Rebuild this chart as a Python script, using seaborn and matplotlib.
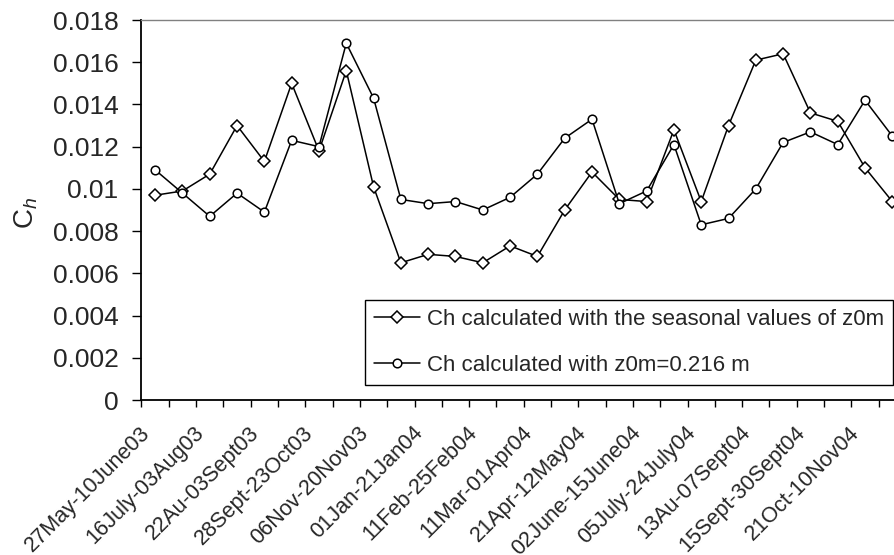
import matplotlib
matplotlib.use("Agg")
import matplotlib.pyplot as plt
import matplotlib.transforms as mtransforms
import numpy as np
import pandas as pd
import seaborn as sns

# ---- data ----
period_labels = ["27May-10June03", "16July-03Aug03", "22Au-03Sept03", "28Sept-23Oct03",
                 "06Nov-20Nov03", "01Jan-21Jan04", "11Feb-25Feb04", "11Mar-01Apr04",
                 "21Apr-12May04", "02June-15June04", "05July-24July04", "13Au-07Sept04",
                 "15Sept-30Sept04", "21Oct-10Nov04"]
n_periods = 28
ch_seasonal = [0.0097, 0.0099, 0.0107, 0.0130, 0.0113, 0.0150, 0.0118, 0.0156,
               0.0101, 0.0065, 0.0069, 0.0068, 0.0065, 0.0073, 0.0068, 0.0090,
               0.0108, 0.0095, 0.0094, 0.0128, 0.0094, 0.0130, 0.0161, 0.0164,
               0.0136, 0.0132, 0.0110, 0.0094]
ch_fixed = [0.0109, 0.0098, 0.0087, 0.0098, 0.0089, 0.0123, 0.0120, 0.0169,
            0.0143, 0.0095, 0.0093, 0.0094, 0.0090, 0.0096, 0.0107, 0.0124,
            0.0133, 0.0093, 0.0099, 0.0121, 0.0083, 0.0086, 0.0100, 0.0122,
            0.0127, 0.0121, 0.0142, 0.0125]
series_names = ["Ch calculated with the seasonal values of z0m",
                "Ch calculated with z0m=0.216 m"]
y_ticks = [0, 0.002, 0.004, 0.006, 0.008, 0.01, 0.012, 0.014, 0.016, 0.018]
y_tick_labels = ["0", "0.002", "0.004", "0.006", "0.008", "0.01", "0.012", "0.014", "0.016", "0.018"]

sns.set_style("white")
plt.rcParams["font.family"] = ["Liberation Sans", "DejaVu Sans"]
plt.rcParams["mathtext.fontset"] = "custom"
plt.rcParams["mathtext.rm"] = "Liberation Sans"
plt.rcParams["mathtext.it"] = "Liberation Sans:italic"

W, H = 895, 555
fig = plt.figure(figsize=(W / 100, H / 100), dpi=100)
# plot area (the original image is cropped slightly at the right)
x0, x1, y_top, y_bot = 141.5, 906.0, 20.0, 400.0
ax = fig.add_axes([x0 / W, 1 - y_bot / H, (x1 - x0) / W, (y_bot - y_top) / H])

idx = np.arange(n_periods)
df = pd.DataFrame({
    "period": np.concatenate([idx, idx]),
    "ch": np.concatenate([ch_seasonal, ch_fixed]),
    "series": [series_names[0]] * n_periods + [series_names[1]] * n_periods,
})

common = dict(color="black", linewidth=1.1, markerfacecolor="white",
              markeredgecolor="black", markeredgewidth=1.1)
sns.lineplot(data=df[df.series == series_names[0]], x="period", y="ch",
             marker="D", markersize=6.6, label=series_names[0], ax=ax, zorder=3, **common)
sns.lineplot(data=df[df.series == series_names[1]], x="period", y="ch",
             marker="o", markersize=6.2, label=series_names[1], ax=ax, zorder=4, **common)

ax.set_xlim(-0.5, n_periods - 0.5)
ax.set_ylim(0, 0.018)
ax.set_yticks(y_ticks)
ax.set_yticklabels(y_tick_labels, fontsize=19)
ax.tick_params(axis="y", which="major", direction="out", length=6.5, width=1.0,
               color="black", pad=10, left=True)

# category labels every other period, tick marks between categories
ax.set_xticks(idx[::2])
ax.set_xticklabels(period_labels, fontsize=15.6, rotation=45, ha="right", va="top",
                   rotation_mode="anchor")
ax.set_xticks(np.arange(n_periods + 1) - 0.5, minor=True)
ax.tick_params(axis="x", which="major", length=0, pad=16)
ax.tick_params(axis="x", which="minor", direction="out", length=5, width=1.0,
               color="black", bottom=True)
shift = mtransforms.ScaledTranslation(-16 / 100, 0, fig.dpi_scale_trans)
for lab in ax.get_xticklabels():
    lab.set_transform(lab.get_transform() + shift)

ax.set_xlabel("")
ax.set_ylabel(r"$\mathrm{C}_{\mathit{h}}$", fontsize=20, va="center")
ax.yaxis.set_label_coords((26 - x0) / (x1 - x0), (y_bot - 213) / (y_bot - y_top))

for side in ["left", "bottom"]:
    ax.spines[side].set_color("black")
    ax.spines[side].set_linewidth(1.3)
for side in ["top", "right"]:
    ax.spines[side].set_color("#808080")
    ax.spines[side].set_linewidth(1.0)
ax.grid(False)

leg = ax.legend(loc="lower right", bbox_to_anchor=(893 / W, 1 - 385 / H),
                bbox_transform=fig.transFigure, borderaxespad=0, fontsize=16,
                frameon=True, fancybox=False, edgecolor="black", framealpha=1,
                handlelength=2.1, handletextpad=0.3, labelspacing=1.13, borderpad=0.4)
leg.get_frame().set_linewidth(1.0)
for line in leg.get_lines():
    line.set_linewidth(1.1)

fig.savefig("out.png", dpi=100)
